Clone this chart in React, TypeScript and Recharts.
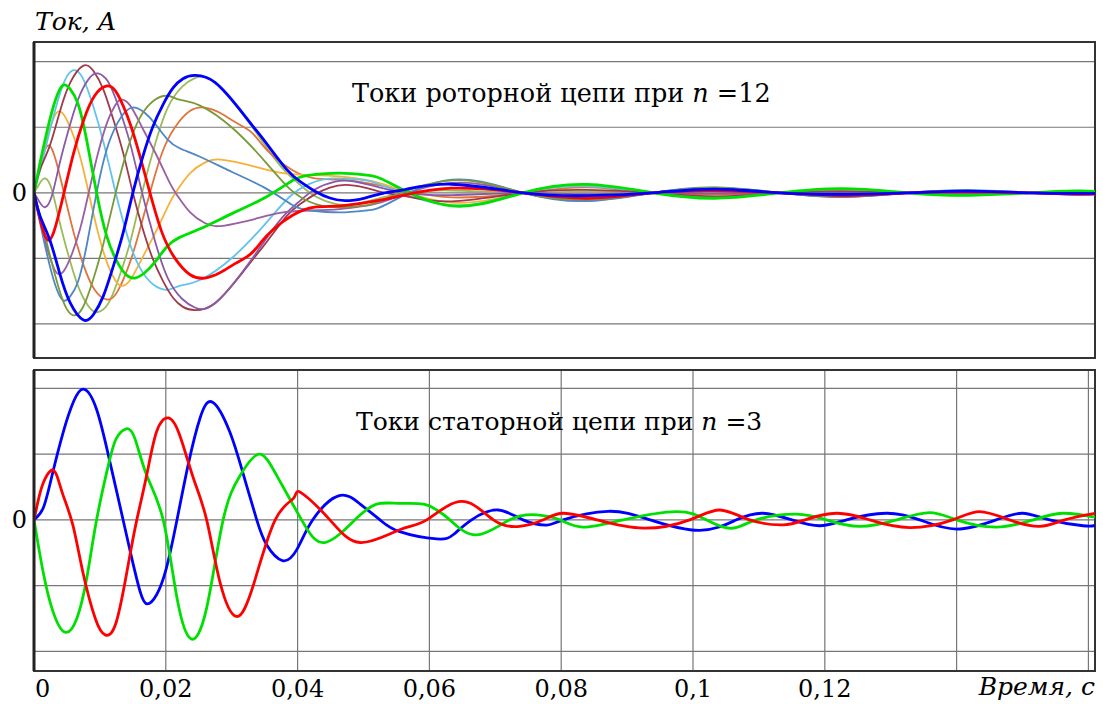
import { LineChart, Line, XAxis, YAxis, CartesianGrid, ReferenceArea, ReferenceLine } from "recharts";

const FONT = "DejaVu Serif";

const timeTicks = [0, 0.02, 0.04, 0.06, 0.08, 0.1, 0.12, 0.14, 0.16];
const gridTicks = [0.02, 0.04, 0.06, 0.08, 0.1, 0.12, 0.14, 0.16];
const currentTicks = [-2, -1, 0, 1, 2];

// ---- rotor currents, n = 12 (time in s, current in grid units) ----
// shared key times of the decaying tail (lens peaks and pinches)
const tailT = [0.0634, 0.0742, 0.084, 0.0939, 0.1033, 0.1132, 0.1227, 0.1326, 0.1417, 0.1511, 0.158, 0.161];

const oliveAT = [0, 0.0009, 0.0017, 0.0027, 0.0039, 0.0055, 0.007, 0.0085, 0.0097, 0.0112, 0.0127, 0.0146, 0.0164, 0.0184, 0.0203, 0.0225, 0.0244, 0.0259, 0.0282, 0.0313, 0.0335, 0.0358, 0.0381, 0.0404, 0.0426, 0.0457, 0.0487, 0.0525, 0.0563];
const oliveAV = [0, 0.15, 0.22, 0.05, -0.45, -1.05, -1.5, -1.76, -1.82, -1.7, -1.35, -0.75, 0, 0.75, 1.3, 1.62, 1.75, 1.77, 1.62, 1.25, 0.95, 0.62, 0.33, 0.12, -0.05, -0.17, -0.17, -0.08, 0];
const oliveATail = [0.035, 0, 0.022, 0, 0.014, 0, 0.011, 0, 0.007, 0, 0.005, 0.004];
const violetV = [0, -0.15, -0.22, -0.05, 0.45, 1.05, 1.5, 1.76, 1.82, 1.7, 1.35, 0.75, 0, -0.75, -1.3, -1.62, -1.75, -1.77, -1.62, -1.25, -0.95, -0.62, -0.33, -0.12, 0.05, 0.17, 0.17, 0.08, 0];
const violetTail = [-0.035, 0, -0.022, 0, -0.014, 0, -0.011, 0, -0.007, 0, -0.005, -0.004];

const redT = [0, 0.0009, 0.0021, 0.0033, 0.00455, 0.006, 0.0075, 0.0092, 0.0111, 0.0127, 0.0146, 0.0161, 0.0176, 0.0194, 0.0214, 0.0237, 0.0259, 0.0282, 0.0305, 0.0328, 0.0345, 0.0363, 0.0393, 0.0426, 0.0464, 0.051, 0.0555];
const redV = [0, -0.4, -0.72, -0.5, 0, 0.6, 1.1, 1.48, 1.63, 1.5, 1.05, 0.55, 0, -0.6, -1.0, -1.25, -1.3, -1.22, -1.08, -0.94, -0.75, -0.56, -0.34, -0.22, -0.2, -0.14, -0.05];
const redTail = [0.07, 0, -0.083, 0, 0.029, 0, -0.042, 0, 0.014, 0, -0.019, -0.015];
const coralV = [0, 0.4, 0.72, 0.5, 0, -0.6, -1.1, -1.48, -1.63, -1.5, -1.05, -0.55, 0, 0.6, 1.0, 1.25, 1.3, 1.22, 1.08, 0.94, 0.75, 0.56, 0.34, 0.22, 0.2, 0.14, 0.05];
const coralTail = [-0.07, 0, 0.083, 0, -0.029, 0, 0.042, 0, -0.014, 0, 0.019, 0.015];

const goldT = [0, 0.0009, 0.002, 0.0029, 0.0036, 0.0046, 0.0058, 0.007, 0.0083, 0.0097, 0.0112, 0.0123, 0.0132, 0.0146, 0.0164, 0.0187, 0.0206, 0.0218, 0.0237, 0.0259, 0.0279, 0.0305, 0.0335, 0.0378, 0.0423, 0.0464, 0.0502, 0.054];
const goldV = [0, 0.4, 0.85, 1.12, 1.235, 1.18, 0.92, 0.55, 0, -0.6, -1.1, -1.33, -1.42, -1.33, -1.0, -0.55, -0.15, 0.05, 0.3, 0.46, 0.51, 0.47, 0.4, 0.3, 0.27, 0.25, 0.2, 0.1];
const goldTail = [-0.15, 0, 0.122, 0, -0.065, 0, 0.061, 0, -0.031, 0, 0.028, 0.022];
const purpleV = [0, -0.4, -0.85, -1.12, -1.235, -1.18, -0.92, -0.55, 0, 0.6, 1.1, 1.33, 1.42, 1.33, 1.0, 0.55, 0.15, -0.05, -0.3, -0.46, -0.51, -0.47, -0.4, -0.3, -0.27, -0.25, -0.2, -0.1];
const purpleTail = [0.15, 0, -0.122, 0, 0.065, 0, -0.061, 0, 0.031, 0, -0.028, -0.022];

const greenT = [0, 0.0009, 0.002, 0.0032, 0.0044, 0.0055, 0.0067, 0.008, 0.0095, 0.011, 0.0126, 0.014, 0.0153, 0.0168, 0.0184, 0.0202, 0.0221, 0.0252, 0.0302, 0.0353, 0.0393, 0.0419, 0.0464, 0.0505, 0.054];
const greenV = [0, 0.45, 0.95, 1.4, 1.64, 1.58, 1.35, 0.8, 0, -0.65, -1.05, -1.25, -1.3, -1.22, -1.05, -0.82, -0.68, -0.55, -0.31, -0.06, 0.19, 0.27, 0.3, 0.27, 0.15];
const greenTail = [-0.2, 0, 0.127, 0, -0.083, 0, 0.064, 0, -0.039, 0, 0.029, 0.023];
const steelV = [0, -0.45, -0.95, -1.4, -1.64, -1.58, -1.35, -0.8, 0, 0.65, 1.05, 1.25, 1.3, 1.22, 1.05, 0.82, 0.68, 0.55, 0.31, 0.06, -0.19, -0.27, -0.3, -0.27, -0.15];
const steelTail = [0.2, 0, -0.127, 0, 0.083, 0, -0.064, 0, 0.039, 0, -0.029, -0.023];

const skyT = [0, 0.0012, 0.0024, 0.0036, 0.0047, 0.006, 0.0074, 0.0089, 0.0106, 0.0124, 0.0143, 0.0161, 0.0181, 0.0202, 0.0221, 0.0252, 0.0302, 0.0353, 0.0388, 0.0419, 0.0454, 0.0495, 0.0532];
const skyV = [0, 0.45, 0.95, 1.4, 1.72, 1.87, 1.75, 1.35, 0.75, 0, -0.7, -1.15, -1.4, -1.48, -1.42, -1.33, -0.98, -0.45, -0.06, 0.14, 0.22, 0.2, 0.1];
const skyTail = [-0.19, 0, 0.1, 0, -0.08, 0, 0.05, 0, -0.038, 0, 0.023, 0.018];
const oliveBV = [0, -0.45, -0.95, -1.4, -1.72, -1.87, -1.75, -1.35, -0.75, 0, 0.7, 1.15, 1.4, 1.48, 1.42, 1.33, 0.98, 0.45, 0.06, -0.14, -0.22, -0.2, -0.1];
const oliveBTail = [0.19, 0, -0.1, 0, 0.08, 0, -0.05, 0, 0.038, 0, -0.023, -0.018];

const blueT = [0, 0.0009, 0.0024, 0.0039, 0.0055, 0.0075, 0.009, 0.0105, 0.012, 0.0135, 0.015, 0.0165, 0.018, 0.0196, 0.0211, 0.0226, 0.0244, 0.0275, 0.0313, 0.0335, 0.0353, 0.0383, 0.0404, 0.0427, 0.0449, 0.0472, 0.0502, 0.0532, 0.0563];
const blueV = [0, -0.35, -0.72, -1.23, -1.68, -1.94, -1.86, -1.58, -1.13, -0.62, 0, 0.55, 1.0, 1.35, 1.6, 1.74, 1.79, 1.68, 1.26, 0.98, 0.75, 0.36, 0.17, 0.02, -0.08, -0.12, -0.08, 0, 0.05];
const blueTail = [0.13, 0, -0.044, 0, 0.054, 0, -0.022, 0, 0.026, 0, -0.01, -0.008];
const maroonV = [0, 0.35, 0.72, 1.23, 1.68, 1.94, 1.86, 1.58, 1.13, 0.62, 0, -0.55, -1.0, -1.35, -1.6, -1.74, -1.79, -1.68, -1.26, -0.98, -0.75, -0.36, -0.17, -0.02, 0.08, 0.12, 0.08, 0, -0.05];
const maroonTail = [-0.13, 0, 0.044, 0, -0.054, 0, 0.022, 0, -0.026, 0, 0.01, 0.008];

// ---- stator currents, n = 3 ----
const sBlueT = [0, 0.0014, 0.0027, 0.00445, 0.006, 0.0075, 0.0095, 0.0115, 0.013, 0.0146, 0.0161, 0.0172, 0.0186, 0.0201, 0.0217, 0.0234, 0.0252, 0.0271, 0.0297, 0.0318, 0.0338, 0.0353, 0.0377, 0.0399, 0.0423, 0.0462, 0.0495, 0.0525, 0.0555, 0.0611, 0.0637, 0.0664, 0.0704, 0.0742, 0.0778, 0.0803, 0.0871, 0.0935, 0.101, 0.1066, 0.1106, 0.115, 0.1192, 0.1233, 0.1293, 0.1344, 0.14, 0.146, 0.15, 0.1541, 0.1592, 0.161];
const sBlueV = [0, 0.18, 0.66, 1.34, 1.8, 1.99, 1.68, 0.89, 0.23, -0.48, -1.09, -1.28, -1.14, -0.73, 0, 0.84, 1.55, 1.79, 1.34, 0.68, 0, -0.38, -0.62, -0.45, 0, 0.365, 0.24, 0, -0.18, -0.29, -0.22, 0, 0.15, 0, -0.08, 0, 0.13, 0, -0.16, 0, 0.1, 0, -0.09, 0, 0.1, 0, -0.14, 0, 0.1, 0, -0.09, -0.085];

const sGreenT = [0, 0.0014, 0.0029, 0.0047, 0.0065, 0.008, 0.0095, 0.0113, 0.0125, 0.014, 0.0153, 0.0171, 0.0196, 0.0217, 0.0238, 0.0262, 0.0287, 0.0313, 0.0341, 0.0368, 0.0406, 0.0441, 0.0487, 0.052, 0.0555, 0.0591, 0.0611, 0.0631, 0.0671, 0.0722, 0.0763, 0.0798, 0.0833, 0.0894, 0.0975, 0.102, 0.1058, 0.1096, 0.1157, 0.1202, 0.1253, 0.1309, 0.1359, 0.14, 0.146, 0.1516, 0.1561, 0.161];
const sGreenV = [0, -0.8, -1.4, -1.71, -1.5, -0.89, 0, 0.84, 1.24, 1.385, 1.24, 0.68, 0, -1.19, -1.81, -1.34, 0, 0.68, 1.0, 0.68, 0, -0.345, 0, 0.24, 0.25, 0.24, 0.15, 0, -0.23, 0, 0.076, 0, -0.11, 0, 0.126, 0, -0.13, 0, 0.087, 0, -0.1, 0, 0.11, 0, -0.11, 0, 0.1, 0.04];

const sRedT = [0, 0.00065, 0.0014, 0.0025, 0.0034, 0.0044, 0.0059, 0.0074, 0.0093, 0.0108, 0.0125, 0.0143, 0.0156, 0.0171, 0.0186, 0.0204, 0.0221, 0.0242, 0.0262, 0.0282, 0.0307, 0.0333, 0.0366, 0.0394, 0.0405, 0.0449, 0.0495, 0.0555, 0.0596, 0.0649, 0.0697, 0.0737, 0.0773, 0.0803, 0.0854, 0.0925, 0.0995, 0.1041, 0.1086, 0.1137, 0.117, 0.1218, 0.1268, 0.1329, 0.1394, 0.1435, 0.148, 0.1526, 0.1564, 0.161];
const sRedV = [0, 0.3, 0.56, 0.745, 0.69, 0.38, -0.08, -0.79, -1.5, -1.75, -1.55, -0.68, 0, 0.68, 1.34, 1.55, 1.29, 0.63, 0, -0.94, -1.47, -0.99, 0, 0.33, 0.415, 0, -0.345, -0.15, 0, 0.28, 0, -0.1, 0, 0.1, 0, -0.127, 0, 0.15, 0, -0.076, 0, 0.1, 0, -0.117, 0, 0.126, 0, -0.1, 0, 0.1];

type Curve = { name: string; color: string; width: number; t: number[]; v: number[] };

// thin ones first, the three bright thick ones on top
const rotor: Curve[] = [
  { name: "olive-a", color: "#9bbb59", width: 1.8, t: [...oliveAT, ...tailT], v: [...oliveAV, ...oliveATail] },
  { name: "coral", color: "#e0743c", width: 1.8, t: [...redT, ...tailT], v: [...coralV, ...coralTail] },
  { name: "gold", color: "#f4b338", width: 1.8, t: [...goldT, ...tailT], v: [...goldV, ...goldTail] },
  { name: "sky", color: "#62c4ee", width: 1.8, t: [...skyT, ...tailT], v: [...skyV, ...skyTail] },
  { name: "maroon", color: "#a0394a", width: 1.8, t: [...blueT, ...tailT], v: [...maroonV, ...maroonTail] },
  { name: "violet", color: "#8a5aa8", width: 1.8, t: [...oliveAT, ...tailT], v: [...violetV, ...violetTail] },
  { name: "purple", color: "#9a5ea4", width: 1.8, t: [...goldT, ...tailT], v: [...purpleV, ...purpleTail] },
  { name: "steel", color: "#4f86c6", width: 1.8, t: [...greenT, ...tailT], v: [...steelV, ...steelTail] },
  { name: "olive-b", color: "#7a9a3a", width: 1.8, t: [...skyT, ...tailT], v: [...oliveBV, ...oliveBTail] },
  { name: "green", color: "#00e000", width: 2.8, t: [...greenT, ...tailT], v: [...greenV, ...greenTail] },
  { name: "red", color: "#ff0000", width: 2.8, t: [...redT, ...tailT], v: [...redV, ...redTail] },
  { name: "blue", color: "#0000ff", width: 2.8, t: [...blueT, ...tailT], v: [...blueV, ...blueTail] },
];

const stator: Curve[] = [
  { name: "s-blue", color: "#0000ff", width: 2.8, t: sBlueT, v: sBlueV },
  { name: "s-green", color: "#00e000", width: 2.8, t: sGreenT, v: sGreenV },
  { name: "s-red", color: "#ff0000", width: 2.8, t: sRedT, v: sRedV },
];

const toPoints = (c: Curve) => c.t.map((t, i) => ({ t, cur: c.v[i] }));

function ZeroTick(props: any) {
  const { y, payload } = props;
  if (payload.value !== 0) return <g />;
  return (
    <text x={27} y={y} dy="0.36em" textAnchor="end" fontSize={24} fontFamily={FONT} fill="#000">
      0
    </text>
  );
}

function TimeTick(props: any) {
  const { x, payload } = props;
  const v = payload.value;
  if (v > 0.13) return <g />;
  return (
    <text x={v === 0 ? x + 1 : x} y={333} textAnchor={v === 0 ? "start" : "middle"} fontSize={24} fontFamily={FONT} fill="#000">
      {String(v).replace(".", ",")}
    </text>
  );
}

function Panel({ curves, height, top, bottom, yMin, yMax, showTime }: {
  curves: Curve[]; height: number; top: number; bottom: number; yMin: number; yMax: number; showTime: boolean;
}) {
  return (
    <LineChart width={1103} height={height} margin={{ top, right: 8, bottom, left: 0 }}>
      <CartesianGrid stroke="#777" strokeWidth={1.2} />
      <XAxis
        type="number" dataKey="t" domain={[0, 0.161]} allowDataOverflow
        ticks={showTime ? timeTicks : gridTicks}
        height={showTime ? 33 : 0}
        tick={showTime ? <TimeTick /> : false}
        axisLine={false} tickLine={false}
      />
      <YAxis
        type="number" domain={[yMin, yMax]} allowDataOverflow ticks={currentTicks}
        width={34} tick={<ZeroTick />} axisLine={false} tickLine={false}
      />
      {curves.map((c) => (
        <Line
          key={c.name} data={toPoints(c)} dataKey="cur" type="natural"
          stroke={c.color} strokeWidth={c.width} dot={false} activeDot={false}
          isAnimationActive={false}
        />
      ))}
      <ReferenceArea x1={0} x2={0.161} y1={yMin} y2={yMax} fill="none" fillOpacity={0} stroke="#333" strokeWidth={2} />
      <ReferenceLine x={0} stroke="#222" strokeWidth={3} />
    </LineChart>
  );
}

export default function App() {
  return (
    <div style={{ position: "absolute", left: 0, top: 0, width: 1103, height: 704, background: "#fff" }}>
      <div style={{ position: "absolute", left: 0, top: 0 }}>
        <Panel curves={rotor} height={364} top={42} bottom={6} yMin={-2.52} yMax={2.3} showTime={false} />
      </div>
      <div style={{ position: "absolute", left: 0, top: 364 }}>
        <Panel curves={stator} height={340} top={6} bottom={0} yMin={-2.3} yMax={2.28} showTime />
      </div>
      <svg width={1103} height={704} style={{ position: "absolute", left: 0, top: 0, pointerEvents: "none" }}>
        <g fill="#000" fontFamily={FONT}>
          <text x={35} y={30} fontSize={25} fontStyle="italic">Ток, А</text>
          <text x={352} y={102} fontSize={25.5}>
            Токи роторной цепи при <tspan fontStyle="italic">n</tspan> =12
          </text>
          <text x={356} y={430} fontSize={25}>
            Токи статорной цепи при <tspan fontStyle="italic">n</tspan> =3
          </text>
          <text x={1095} y={695} fontSize={25} fontStyle="italic" textAnchor="end">Время, с</text>
        </g>
      </svg>
    </div>
  );
}
